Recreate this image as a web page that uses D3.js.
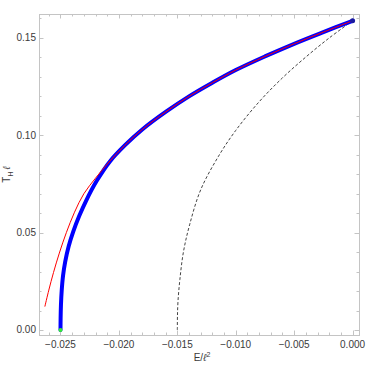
<!DOCTYPE html>
<html><head><meta charset="utf-8">
<script src="https://cdn.jsdelivr.net/npm/d3@7"></script>
<style>body{margin:0;background:#fff}svg{display:block}text{font-family:"Liberation Sans",Arial,sans-serif}</style>
</head><body>
<script>
// ---- data ----
const blueE = [-0.02500,-0.02499,-0.02496,-0.02490,-0.02478,-0.02460,-0.02430,-0.02391,-0.02340,-0.02280,-0.02191,-0.02077,-0.01950,-0.01800,-0.01600,-0.01400,-0.01200,-0.01000,-0.00750,-0.00500,-0.00250,0.00000];
const blueT = [0.0000,0.0060,0.0130,0.0200,0.0280,0.0350,0.0430,0.0505,0.0585,0.0665,0.0765,0.0866,0.0948,0.1030,0.1120,0.1200,0.1270,0.1335,0.1405,0.1470,0.1530,0.1588];
const redE = [-0.02634,-0.02600,-0.02560,-0.02510,-0.02450,-0.02380,-0.02300,-0.02200,-0.02077,-0.01950,-0.01800,-0.01600,-0.01400,-0.01200,-0.01000,-0.00750,-0.00500,-0.00250,0.00000];
const redT = [0.0120,0.0205,0.0295,0.0395,0.0500,0.0605,0.0700,0.0780,0.0868,0.0948,0.1030,0.1120,0.1200,0.1270,0.1335,0.1405,0.1470,0.1530,0.1588];
const dashE = [-0.01500,-0.01499,-0.01494,-0.01478,-0.01448,-0.01395,-0.01300,-0.01150,-0.01000,-0.00800,-0.00600,-0.00400,-0.00200,0.00000];
const dashT = [0.0000,0.0070,0.0150,0.0260,0.0400,0.0540,0.0720,0.0890,0.1025,0.1172,0.1295,0.1402,0.1500,0.1588];
const xTicks = [-0.025,-0.020,-0.015,-0.010,-0.005,0.000];
const xTickLabels = ["\u22120.025","\u22120.020","\u22120.015","\u22120.010","\u22120.005","0.000"];
const yTicks = [0.00,0.05,0.10,0.15];
const yTickLabels = ["0.00","0.05","0.10","0.15"];
const startPoint = [-0.025, 0.0];
const endPoint = [0.0, 0.1588];

const W = 374, H = 367;
const L = 39, R = 359, T = 14, B = 335;
const x = d3.scaleLinear().domain([-0.02684, 0.00055]).range([L, R]);
const y = d3.scaleLinear().domain([-0.00257, 0.1623]).range([B, T]);

const svg = d3.select("body").append("svg").attr("width", W).attr("height", H);

const frameColor = "#c4c4c4", labelColor = "#3a3a3a";

// ticks (inside frame on all sides)
const xMinor = d3.range(-0.026, 0.0005, 0.001).map(v => +v.toFixed(4));
const yMinor = d3.range(0, 0.1605, 0.01).map(v => +v.toFixed(3));
const isMajX = v => xTicks.some(t => Math.abs(t - v) < 1e-7);
const isMajY = v => yTicks.some(t => Math.abs(t - v) < 1e-7);
const tk = svg.append("g").attr("stroke", frameColor).attr("stroke-width", 1);
xMinor.forEach(v => {
  const len = isMajX(v) ? 4.5 : 2.5, px = Math.round(x(v)) + 0.5;
  tk.append("line").attr("x1", px).attr("x2", px).attr("y1", B).attr("y2", B - len);
  tk.append("line").attr("x1", px).attr("x2", px).attr("y1", T).attr("y2", T + len);
});
yMinor.forEach(v => {
  const len = isMajY(v) ? 4.5 : 2.5, py = Math.round(y(v)) + 0.5;
  tk.append("line").attr("y1", py).attr("y2", py).attr("x1", L).attr("x2", L + len);
  tk.append("line").attr("y1", py).attr("y2", py).attr("x1", R).attr("x2", R - len);
});
svg.append("rect").attr("x", L + 0.5).attr("y", T + 0.5).attr("width", R - L).attr("height", B - T)
  .attr("fill", "none").attr("stroke", frameColor).attr("stroke-width", 1);

// tick labels
svg.append("g").selectAll("text").data(xTicks).join("text")
  .attr("x", d => x(d)).attr("y", B + 13).attr("text-anchor", "middle")
  .attr("font-size", 10).attr("fill", labelColor).text((d, i) => xTickLabels[i]);
svg.append("g").selectAll("text").data(yTicks).join("text")
  .attr("x", L - 3).attr("y", d => y(d) + 3.5).attr("text-anchor", "end")
  .attr("font-size", 10).attr("fill", labelColor).text((d, i) => yTickLabels[i]);

// axis titles
const xt = svg.append("text").attr("x", 202).attr("y", 361).attr("text-anchor", "middle")
  .attr("font-size", 10).attr("fill", labelColor);
xt.append("tspan").text("E/");
xt.append("tspan").attr("font-style", "italic").text("\u2113");
xt.append("tspan").attr("font-size", 7).attr("dy", -4).text("2");

const yt = svg.append("text").attr("transform", `translate(10,${(T + B) / 2}) rotate(-90)`)
  .attr("text-anchor", "middle").attr("font-size", 10).attr("fill", labelColor);
yt.append("tspan").text("T");
yt.append("tspan").attr("font-size", 7).attr("dy", 3).text("H");
yt.append("tspan").attr("dy", -3).text("\u2009");
yt.append("tspan").attr("font-style", "italic").text("\u2113");

// curves
const plot = svg.append("g");
const line = d3.line().x(d => x(d[0])).y(d => y(d[1])).curve(d3.curveCatmullRom.alpha(0.5));
const blue = blueE.map((e, i) => [e, blueT[i]]);
const red = redE.map((e, i) => [e, redT[i]]);
const dash = dashE.map((e, i) => [e, dashT[i]]);

plot.append("path").attr("d", line(dash)).attr("fill", "none").attr("stroke", "#444")
  .attr("stroke-width", 1).attr("stroke-dasharray", "3,2");
plot.append("path").attr("d", line(blue)).attr("fill", "none").attr("stroke", "#0000ff")
  .attr("stroke-width", 4).attr("stroke-linecap", "round");
plot.append("path").attr("d", line(red)).attr("fill", "none").attr("stroke", "#ff0000")
  .attr("stroke-width", 1);
plot.append("circle").attr("cx", x(endPoint[0])).attr("cy", y(endPoint[1])).attr("r", 2.5).attr("fill", "#1a1aa0");
plot.append("circle").attr("cx", x(startPoint[0])).attr("cy", y(startPoint[1])).attr("r", 2).attr("fill", "#33ee33");
</script>
</body></html>
